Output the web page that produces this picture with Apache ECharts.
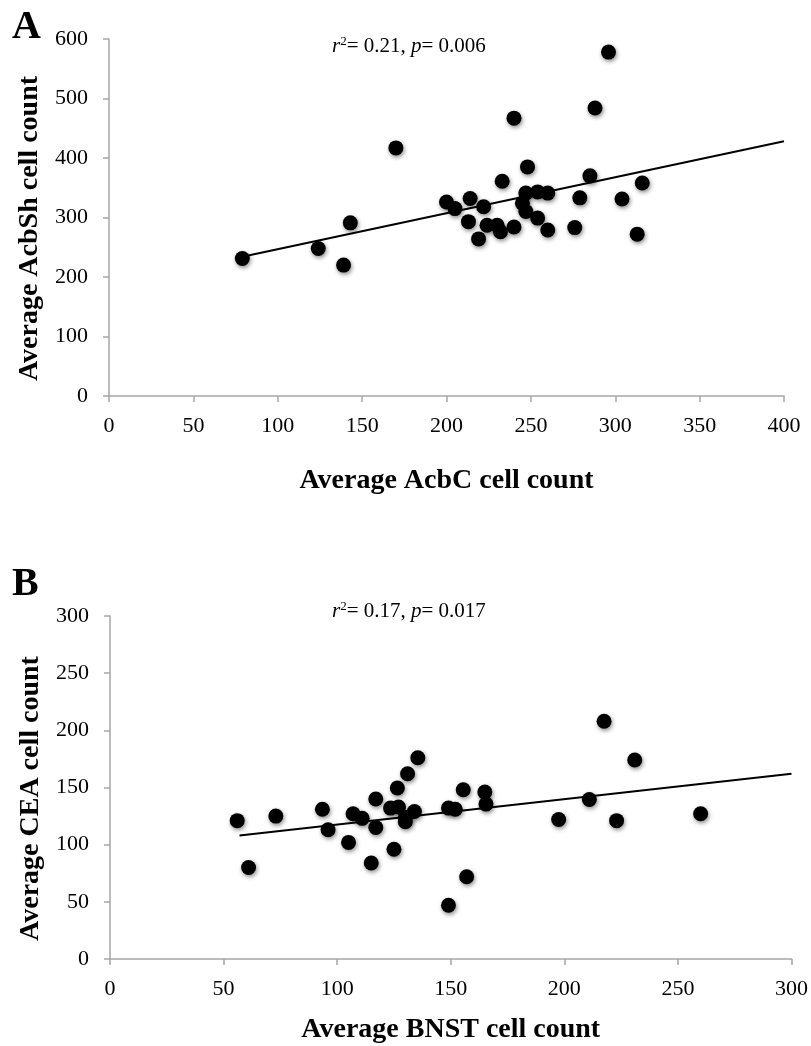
<!DOCTYPE html>
<html>
<head>
<meta charset="utf-8">
<script src="https://cdn.jsdelivr.net/npm/echarts@6/dist/echarts.min.js"></script>
<style>html,body{margin:0;padding:0;background:#fff}#c{width:811px;height:1046px}</style>
</head>
<body>
<div id="c"></div>
<script>
// Panel A: AcbC (x) vs AcbSh (y)
const xA = [79,124,139,143,170,200,205,214,213,222,224,230,232,219,240,240,233,248,247,245,247,254,260,254,260,276,279,285,288,296,304,313,316];
const yA = [231,248,220,291,417,326,315,332,293,318,287,287,276,264,284,467,361,385,341,324,310,343,341,299,279,283,333,370,484,578,331,272,358];
const fitA = [[79,234],[400,428]];
const ticksAX = [0,50,100,150,200,250,300,350,400];
const ticksAY = [0,100,200,300,400,500,600];
// Panel B: BNST (x) vs CEA (y)
const xB = [56,61,73,93.5,96,105,107,111,117,117,115,125,126.5,131,135.5,123.5,127,130,130,134,149,152,155.5,165,165.5,149,157,197.5,211,217.5,223,231,260];
const yB = [121,80,125,131,113,102,127,123,140,115,84,96,149.5,162,176,132,133,120,124,129,132,131,148,146,135.5,47,72,122,139.5,208,121,174,127];
const fitB = [[57,108],[300,162]];
const ticksBX = [0,50,100,150,200,250,300];
const ticksBY = [0,50,100,150,200,250,300];

const serif = '"Liberation Serif","Times New Roman",serif';
const axisCol = '#a6a6a6';
function zip(xs, ys){ return xs.map((x,i)=>[x, ys[i]]); }
function xAx(gi, ticks, name, gap){
  return {type:'value', gridIndex:gi, min:ticks[0], max:ticks[ticks.length-1], interval:ticks[1]-ticks[0],
    name:name, nameLocation:'middle', nameGap:gap,
    nameTextStyle:{fontFamily:serif, fontWeight:'bold', fontSize:28, color:'#000'},
    axisLine:{show:true, onZero:false, lineStyle:{color:axisCol, width:1.5}},
    axisTick:{show:true, length:6, lineStyle:{color:axisCol, width:1.5}},
    axisLabel:{fontFamily:serif, fontSize:22, color:'#000', margin:19},
    splitLine:{show:false}};
}
function yAx(gi, ticks, name, gap){
  return {type:'value', gridIndex:gi, min:ticks[0], max:ticks[ticks.length-1], interval:ticks[1]-ticks[0],
    name:name, nameLocation:'middle', nameGap:gap, nameRotate:90,
    nameTextStyle:{fontFamily:serif, fontWeight:'bold', fontSize:28, color:'#000', padding:[0,22,0,0]},
    axisLine:{show:true, onZero:false, lineStyle:{color:axisCol, width:1.5}},
    axisTick:{show:true, length:6, lineStyle:{color:axisCol, width:1.5}},
    axisLabel:{fontFamily:serif, fontSize:22, color:'#000', margin:21},
    splitLine:{show:false}};
}
const dot = {color:'#000', opacity:1, shadowBlur:4, shadowColor:'rgba(0,0,0,0.45)', shadowOffsetX:1, shadowOffsetY:2};
const rich = {
  i:{fontFamily:serif, fontStyle:'italic', fontSize:21, color:'#000'},
  s:{fontFamily:serif, fontSize:13, color:'#000', verticalAlign:'top', padding:[0,0,10,0]},
  n:{fontFamily:serif, fontSize:21, color:'#000'}
};
const chart = echarts.init(document.getElementById('c'), null, {renderer:'canvas'});
chart.setOption({
  backgroundColor:'#fff',
  animation:false,
  grid:[
    {left:109, top:39, width:675, height:357},
    {left:110, top:616, width:682, height:343}
  ],
  xAxis:[xAx(0, ticksAX, 'Average AcbC cell count', 71), xAx(1, ticksBX, 'Average BNST cell count', 57)],
  yAxis:[yAx(0, ticksAY, 'Average AcbSh cell count', 58), yAx(1, ticksBY, 'Average CEA cell count', 58)],
  series:[
    {type:'line', xAxisIndex:0, yAxisIndex:0, data:fitA, symbol:'none', lineStyle:{color:'#000', width:2}, z:1},
    {type:'scatter', xAxisIndex:0, yAxisIndex:0, data:zip(xA,yA), symbolSize:15, itemStyle:dot, z:2},
    {type:'line', xAxisIndex:1, yAxisIndex:1, data:fitB, symbol:'none', lineStyle:{color:'#000', width:2}, z:1},
    {type:'scatter', xAxisIndex:1, yAxisIndex:1, data:zip(xB,yB), symbolSize:15, itemStyle:dot, z:2}
  ],
  graphic:[
    {type:'text', left:12, top:8, style:{text:'A', fontFamily:serif, fontWeight:'bold', fontSize:40, fill:'#000'}},
    {type:'text', left:12, top:565, style:{text:'B', fontFamily:serif, fontWeight:'bold', fontSize:40, fill:'#000'}},
    {type:'text', left:332, top:35, style:{text:'{i|r}{s|2}{n|= 0.21, }{i|p}{n|= 0.006}', rich:rich}},
    {type:'text', left:332, top:600, style:{text:'{i|r}{s|2}{n|= 0.17, }{i|p}{n|= 0.017}', rich:rich}}
  ]
});
</script>
</body>
</html>
